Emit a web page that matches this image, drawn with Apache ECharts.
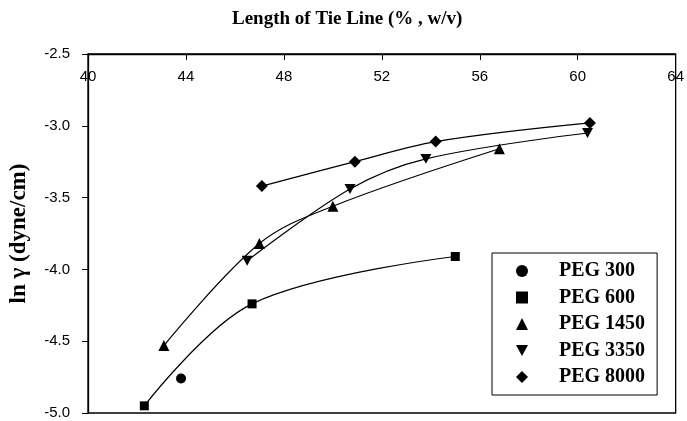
<!DOCTYPE html>
<html>
<head>
<meta charset="utf-8">
<script src="https://cdn.jsdelivr.net/npm/echarts@6/dist/echarts.min.js"></script>
<style>
html,body{margin:0;padding:0;background:#fff;}
#chart{width:687px;height:421px;}
</style>
</head>
<body>
<div id="chart"></div>
<script>
// ---- data ----
var seriesNames = ['PEG 300', 'PEG 600', 'PEG 1450', 'PEG 3350', 'PEG 8000'];
var peg300X  = [43.8];
var peg300Y  = [-4.76];
var peg600X  = [42.3, 46.7, 55.0];
var peg600Y  = [-4.95, -4.24, -3.91];
var peg1450X = [43.1, 47.0, 50.0, 56.8];
var peg1450Y = [-4.53, -3.82, -3.56, -3.16];
var peg3350X = [46.5, 50.7, 53.8, 60.4];
var peg3350Y = [-3.94, -3.44, -3.23, -3.05];
var peg8000X = [47.1, 50.9, 54.2, 60.5];
var peg8000Y = [-3.42, -3.25, -3.11, -2.98];
var xTicks = [40, 44, 48, 52, 56, 60, 64];
var yTicks = [-5.0, -4.5, -4.0, -3.5, -3.0, -2.5];

function pairs(xs, ys) { return xs.map(function (x, i) { return [x, ys[i]]; }); }

var downTri = 'path://M0,0 L10,0 L5,9 Z';
var symbols = ['circle', 'rect', 'triangle', downTri, 'diamond'];
var sizes = [10, 9, 11, 11, 12];
var xs = [peg300X, peg600X, peg1450X, peg3350X, peg8000X];
var ys = [peg300Y, peg600Y, peg1450Y, peg3350Y, peg8000Y];

var chart = echarts.init(document.getElementById('chart'), null, {renderer: 'canvas'});
var series = seriesNames.map(function (n, i) {
  return {
    name: n,
    type: 'line',
    data: pairs(xs[i], ys[i]),
    smooth: 0.35,
    symbol: symbols[i],
    symbolSize: sizes[i],
    symbolKeepAspect: true,
    showAllSymbol: true,
    lineStyle: {color: '#000', width: 1.2},
    itemStyle: {color: '#000'},
    z: 3
  };
});

chart.setOption({
  backgroundColor: '#fff',
  animation: false,
  title: {
    text: 'Length of Tie Line (% , w/v)',
    left: 227, top: 5,
    textStyle: {fontFamily: 'Liberation Serif', fontWeight: 'bold', fontSize: 19, color: '#000'}
  },
  grid: {left: 86, right: 10, top: 54, bottom: 8, show: true, borderColor: '#000', borderWidth: 1.3, backgroundColor: 'transparent'},
  legend: {
    orient: 'vertical',
    left: 492, top: 253,
    padding: [8, 12, 8, 24],
    itemGap: 6.5,
    itemWidth: 12, itemHeight: 12,
    borderColor: '#000', borderWidth: 1,
    backgroundColor: '#fff',
    data: seriesNames.map(function (n, i) { return {name: n, icon: symbols[i]}; }),
    textStyle: {fontFamily: 'Liberation Serif', fontWeight: 'bold', fontSize: 20, color: '#000', lineHeight: 20, padding: [0, 0, 0, 26]}
  },
  xAxis: {
    type: 'value', position: 'top',
    min: xTicks[0], max: xTicks[xTicks.length - 1], interval: 4,
    axisLine: {show: true, onZero: false, lineStyle: {color: '#000', width: 1.3}},
    axisTick: {show: true, inside: true, length: 6, lineStyle: {color: '#000'}},
    axisLabel: {inside: true, margin: 15, fontFamily: 'Liberation Sans', fontSize: 15, color: '#000'},
    splitLine: {show: false}
  },
  yAxis: {
    type: 'value',
    min: yTicks[0], max: yTicks[yTicks.length - 1], interval: 0.5,
    name: 'ln γ (dyne/cm)', nameLocation: 'middle', nameGap: 57, nameRotate: 90,
    nameTextStyle: {fontFamily: 'Liberation Serif', fontWeight: 'bold', fontSize: 23, color: '#000'},
    axisLine: {show: true, onZero: false, lineStyle: {color: '#000', width: 1.3}},
    axisTick: {show: true, inside: false, length: 6, lineStyle: {color: '#000'}},
    axisLabel: {margin: 18, fontFamily: 'Liberation Sans', fontSize: 15, color: '#000',
      formatter: function (v) { return v.toFixed(1); }},
    splitLine: {show: false}
  },
  series: series
});
</script>
</body>
</html>
